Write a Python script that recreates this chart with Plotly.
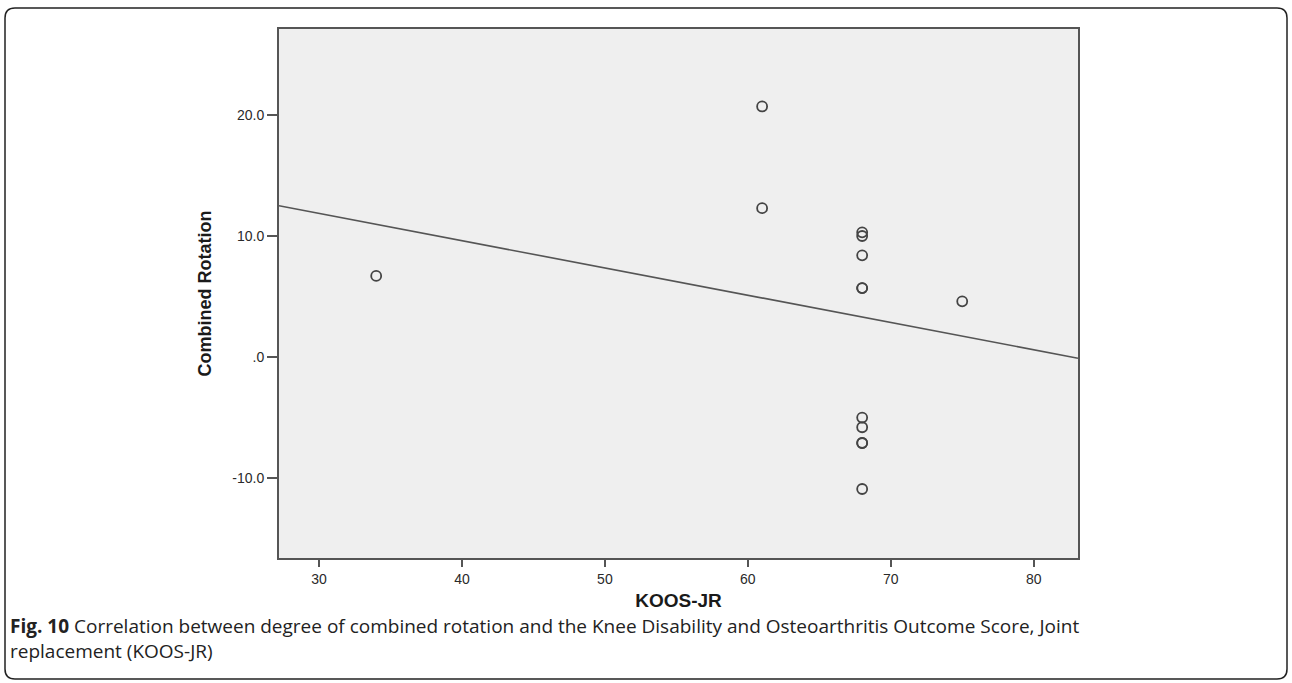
import plotly.graph_objects as go

# ---- data ----
koos_jr = [34, 61, 61, 68, 68, 68, 68, 68, 75, 68, 68, 68, 68, 68]
combined_rotation = [6.7, 20.7, 12.3, 10.3, 10.0, 8.4, 5.7, 5.7, 4.6, -5.0, -5.8, -7.1, -7.1, -10.9]
fit_x = [27.2, 83.1]
fit_y = [12.5, -0.1]
x_ticks = [30, 40, 50, 60, 70, 80]
y_ticks = [-10, 0, 10, 20]
y_ticktext = ["-10.0", ".0", "10.0", "20.0"]
caption_bold = "Fig. 10"
caption_rest = (" Correlation between degree of combined rotation and the Knee Disability and "
                "Osteoarthritis Outcome Score, Joint<br>replacement (KOOS-JR)")

W, H = 1292, 683
L, R, T, B = 279, 1078, 29, 558

fig = go.Figure()
fig.add_trace(go.Scatter(x=fit_x, y=fit_y, mode="lines",
                         line=dict(color="#555555", width=1.6), hoverinfo="skip"))
fig.add_trace(go.Scatter(x=koos_jr, y=combined_rotation, mode="markers",
                         marker=dict(symbol="circle-open", size=10, color="#444444",
                                     line=dict(width=1.8, color="#444444"))))

axis_font = dict(family="Liberation Sans, Arial", size=14, color="#2a2a2a")
fig.update_layout(
    width=W, height=H, margin=dict(l=0, r=0, t=0, b=0),
    paper_bgcolor="white", plot_bgcolor="#efefef", showlegend=False,
    xaxis=dict(domain=[L / W, R / W], range=[27.2, 83.1], tickvals=x_ticks,
               ticks="outside", ticklen=7, tickwidth=2, tickcolor="#555555",
               showgrid=False, zeroline=False, showline=True, linecolor="#555555",
               linewidth=2, mirror=True, tickfont=axis_font,
               title=dict(text="<b>KOOS-JR</b>", standoff=8,
                          font=dict(family="Liberation Sans, Arial", size=19, color="#1a1a1a"))),
    yaxis=dict(domain=[(H - B) / H, (H - T) / H], range=[-16.6, 27.1],
               tickvals=y_ticks, ticktext=y_ticktext,
               ticks="outside", ticklen=10, tickwidth=2, tickcolor="#555555",
               showgrid=False, zeroline=False, showline=True, linecolor="#555555",
               linewidth=2, mirror=True, tickfont=axis_font,
               title=dict(text="<b>Combined Rotation</b>", standoff=16,
                          font=dict(family="Liberation Sans, Arial", size=18, color="#1a1a1a"))),
)

# caption
fig.add_annotation(xref="paper", yref="paper", x=8 / W, y=1 - 611 / H,
                   xanchor="left", yanchor="top", align="left", showarrow=False,
                   text="<b>" + caption_bold + "</b>" + caption_rest,
                   font=dict(family="Open Sans", size=19, color="#222222"))

# rounded outer border
x0, y0, x1, y1, r = 5 / W, 1 - 8 / H, 1287 / W, 1 - 679 / H, 10
rx, ry = r / W, r / H
path = (f"M {x0 + rx},{y0} L {x1 - rx},{y0} Q {x1},{y0} {x1},{y0 - ry} "
        f"L {x1},{y1 + ry} Q {x1},{y1} {x1 - rx},{y1} L {x0 + rx},{y1} "
        f"Q {x0},{y1} {x0},{y1 + ry} L {x0},{y0 - ry} Q {x0},{y0} {x0 + rx},{y0} Z")
fig.add_shape(type="path", xref="paper", yref="paper", path=path,
              line=dict(color="#222222", width=1.5), layer="below")

fig.write_html("out.html", config={"displayModeBar": False},
               post_script="document.body.style.margin='0';document.body.style.overflow='hidden';")
